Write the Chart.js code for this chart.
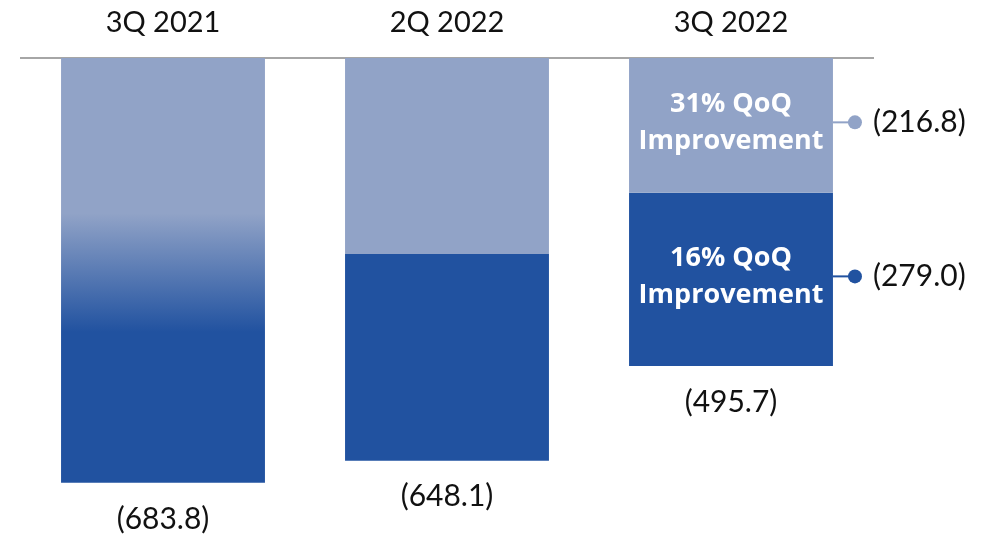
<!DOCTYPE html>
<html>
<head>
<meta charset="utf-8">
<script src="https://cdn.jsdelivr.net/npm/chart.js@4.4.0/dist/chart.umd.min.js"></script>
<style>
  html, body { margin: 0; padding: 0; background: #fff; }
</style>
</head>
<body>
<canvas id="lossChart" width="1005" height="535"></canvas>
<script>
// quarterly loss, shown as bars hanging from the top axis
const quarters = ['3Q 2021', '2Q 2022', '3Q 2022'];
const blendedLoss = [683.8, null, null];      // no split for 3Q 2021
const lightLoss = [null, 315.6, 216.8];
const darkLoss = [null, 332.5, 279.0];
const totalLoss = [683.8, 648.1, 495.7];
const lightNote = ['31% QoQ', 'Improvement'];
const darkNote = ['16% QoQ', 'Improvement'];

const LIGHT = '#91a3c7';
const DARK = '#2152a0';
const TEXT = '#111111';

const fmt = v => '(' + v.toFixed(1) + ')';

// light -> dark fade on the undivided bar
function blendFill(ctx) {
  const chart = ctx.chart;
  if (!chart.chartArea) return LIGHT;
  const y = chart.scales.y;
  const g = chart.ctx.createLinearGradient(0, y.getPixelForValue(250), 0, y.getPixelForValue(441));
  g.addColorStop(0, LIGHT);
  g.addColorStop(1, DARK);
  return g;
}

const notesPlugin = {
  id: 'notes',
  afterDatasetsDraw(chart) {
    const ctx = chart.ctx;
    const y = chart.scales.y;
    const x = chart.scales.x;
    ctx.save();

    // totals under each bar
    ctx.fillStyle = TEXT;
    ctx.font = '30px Lato';
    ctx.textAlign = 'center';
    ctx.textBaseline = 'middle';
    totalLoss.forEach((v, i) => {
      ctx.fillText(fmt(v), x.getPixelForValue(i), y.getPixelForValue(v) + 36);
    });

    // split segments of the last quarter
    const last = quarters.length - 1;
    [[1, lightNote, LIGHT, lightLoss[last]], [2, darkNote, DARK, darkLoss[last]]].forEach(([di, note, col, val]) => {
      const el = chart.getDatasetMeta(di).data[last];
      const cy = (el.y + el.base) / 2 - 3;
      ctx.fillStyle = '#ffffff';
      ctx.font = 'bold 27px "Open Sans"';
      ctx.textAlign = 'center';
      ctx.textBaseline = 'middle';
      ctx.fillText(note[0], el.x, cy - 18);
      ctx.fillText(note[1], el.x, cy + 19);

      const right = el.x + el.width / 2;
      const dotX = right + 22;
      ctx.strokeStyle = col;
      ctx.lineWidth = 2;
      ctx.beginPath();
      ctx.moveTo(right, cy);
      ctx.lineTo(dotX, cy);
      ctx.stroke();
      ctx.fillStyle = col;
      ctx.beginPath();
      ctx.arc(dotX, cy, 7, 0, Math.PI * 2);
      ctx.fill();

      ctx.fillStyle = TEXT;
      ctx.font = '30px Lato';
      ctx.textAlign = 'left';
      ctx.fillText(fmt(val), dotX + 18, cy);
    });
    ctx.restore();
  }
};

function draw() {
  new Chart(document.getElementById('lossChart'), {
    type: 'bar',
    data: {
      labels: quarters,
      datasets: [
        { label: 'Total', data: blendedLoss, backgroundColor: blendFill },
        { label: 'Light', data: lightLoss, backgroundColor: LIGHT },
        { label: 'Dark', data: darkLoss, backgroundColor: DARK }
      ]
    },
    options: {
      responsive: false,
      animation: false,
      devicePixelRatio: 1,
      layout: { padding: { left: 21, right: 132, top: 0, bottom: 11 } },
      datasets: { bar: { barPercentage: 0.718, categoryPercentage: 1.0 } },
      plugins: { legend: { display: false }, tooltip: { enabled: false } },
      scales: {
        x: {
          position: 'top',
          stacked: true,
          grid: { display: false, drawTicks: false },
          border: { display: true, color: '#a6a6a6', width: 2 },
          ticks: { color: TEXT, font: { family: 'Lato', size: 29 }, padding: 18 },
          afterFit: s => { s.height = 58; }
        },
        y: { stacked: true, reverse: true, min: 0, max: 750, display: false }
      }
    },
    plugins: [notesPlugin]
  });
}

Promise.all([
  document.fonts.load('30px Lato'),
  document.fonts.load('bold 27px "Open Sans"')
]).then(draw, draw);
</script>
</body>
</html>
